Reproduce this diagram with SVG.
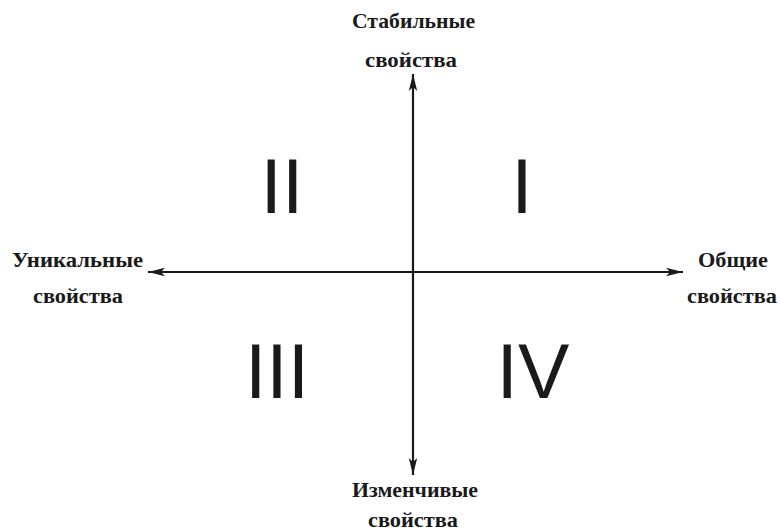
<svg xmlns="http://www.w3.org/2000/svg" width="780" height="532" viewBox="0 0 780 532">
<defs>
<style>
.lbl{font-family:"Liberation Serif","Times New Roman",serif;font-weight:bold;font-size:21px;fill:#1a1a1a}
.num{font-family:"Liberation Sans",Arial,sans-serif;font-size:77px;fill:#1a1a1a;text-anchor:middle}
.axis{stroke:#1a1a1a;stroke-width:2.2;fill:none}
</style>
<marker id="ah" markerUnits="userSpaceOnUse" markerWidth="20" markerHeight="12" viewBox="-18 -6 20 12" refX="0" refY="0" orient="auto">
<path d="M0,0 L-17,-4.2 L-13,0 L-17,4.2 Z" fill="#1a1a1a"/>
</marker>
</defs>
<rect width="780" height="532" fill="#ffffff"/>
<g id="connectors">
<line class="axis" x1="413" y1="271" x2="413" y2="74" marker-end="url(#ah)"/>
<line class="axis" x1="413" y1="271" x2="413" y2="475" marker-end="url(#ah)"/>
<line class="axis" x1="413" y1="272" x2="148" y2="272" marker-end="url(#ah)"/>
<line class="axis" x1="413" y1="272" x2="683" y2="272" marker-end="url(#ah)"/>
</g>
<g id="top">
<text class="lbl" x="352" y="28" textLength="123" lengthAdjust="spacingAndGlyphs">Стабильные</text>
<text class="lbl" x="365" y="67" textLength="92" lengthAdjust="spacingAndGlyphs">свойства</text>
</g>
<g id="left">
<text class="lbl" x="12" y="267" textLength="131" lengthAdjust="spacingAndGlyphs">Уникальные</text>
<text class="lbl" x="33" y="303" textLength="90" lengthAdjust="spacingAndGlyphs">свойства</text>
</g>
<g id="right">
<text class="lbl" x="698" y="267" textLength="70" lengthAdjust="spacingAndGlyphs">Общие</text>
<text class="lbl" x="687" y="303" textLength="90" lengthAdjust="spacingAndGlyphs">свойства</text>
</g>
<g id="bottom">
<text class="lbl" x="352" y="497" textLength="126" lengthAdjust="spacingAndGlyphs">Изменчивые</text>
<text class="lbl" x="368" y="527" textLength="90" lengthAdjust="spacingAndGlyphs">свойства</text>
</g>
<g id="q1"><text class="num" x="522" y="213">I</text></g>
<g id="q2"><text class="num" x="282" y="213">II</text></g>
<g id="q3"><text class="num" x="277" y="398">III</text></g>
<g id="q4"><text class="num" x="533" y="398">IV</text></g>
</svg>
